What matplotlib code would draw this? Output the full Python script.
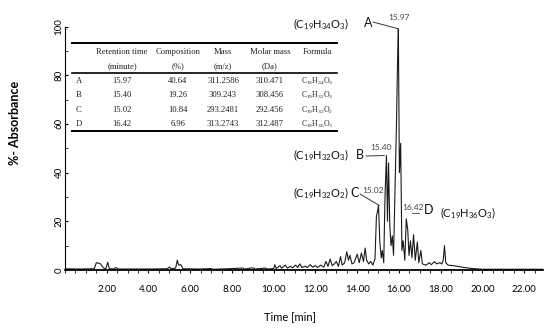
import matplotlib.pyplot as plt
from matplotlib.lines import Line2D

plt.rcParams['font.family'] = ['Lato', 'DejaVu Sans']
plt.rcParams['mathtext.default'] = 'regular'

# chromatogram (time in min, % absorbance)
tempo = [0.0, 0.6, 1.4, 1.5, 1.6, 1.7, 1.85, 1.95, 2.05, 2.12, 2.3, 2.45, 2.55,
         3.0, 4.0, 4.9, 5.0, 5.1, 5.3, 5.38, 5.45, 5.55, 5.65, 6.5, 7.0, 7.1,
         7.8, 8.5, 8.6, 9.0, 9.1, 9.6, 9.7, 10.0, 10.05, 10.12, 10.3, 10.38,
         10.55, 10.65, 10.8, 10.9, 11.05, 11.15, 11.25, 11.35, 11.5, 11.6,
         11.75, 11.85, 12.0, 12.1, 12.25, 12.4, 12.5, 12.6, 12.7, 12.8, 12.9,
         13.0, 13.1, 13.2, 13.28, 13.4, 13.5, 13.58, 13.65, 13.75, 13.85,
         14.0, 14.1, 14.2, 14.3, 14.38, 14.45, 14.55, 14.65, 14.75, 14.85,
         14.92, 14.97, 15.02, 15.08, 15.15, 15.2, 15.27, 15.33, 15.40, 15.45,
         15.5, 15.56, 15.62, 15.68, 15.74, 15.8, 15.88, 15.93, 15.97, 16.02,
         16.08, 16.14, 16.2, 16.28, 16.35, 16.42, 16.48, 16.55, 16.62, 16.7,
         16.78, 16.88, 16.95, 17.05, 17.12, 17.3, 17.45, 17.55, 17.7, 17.8,
         17.95, 18.05, 18.12, 18.18, 18.24, 18.35, 18.6, 19.0, 19.5, 20.0, 22.9]
absorb = [0.5, 0.4, 0.5, 3.0, 2.8, 2.5, 0.8, 0.5, 3.2, 0.6, 0.4, 1.0, 0.4,
          0.4, 0.4, 0.5, 1.2, 0.5, 0.8, 4.0, 2.0, 2.2, 0.5, 0.4, 0.6, 0.3,
          0.5, 0.8, 0.4, 0.9, 0.4, 0.8, 0.4, 0.6, 2.2, 0.6, 1.8, 0.7,
          2.0, 0.8, 1.5, 0.9, 2.0, 1.0, 2.5, 1.0, 1.6, 1.0,
          2.2, 1.2, 1.8, 1.0, 2.0, 1.2, 3.5, 1.5, 4.5, 1.8, 2.5,
          3.5, 1.5, 5.5, 2.0, 3.0, 7.5, 4.0, 6.0, 2.5, 3.0,
          6.5, 3.0, 7.0, 3.5, 9.0, 4.0, 2.5, 3.5, 2.0, 4.5,
          22.0, 24.0, 26.5, 12.0, 5.0, 8.0, 3.0, 30.0, 47.0, 20.0,
          44.0, 18.0, 10.0, 14.0, 6.0, 30.0, 60.0, 85.0, 99.0, 40.0,
          52.0, 8.0, 12.0, 4.0, 21.0, 16.5, 6.0, 12.0, 5.0, 14.5,
          4.0, 11.5, 3.0, 8.0, 2.5, 2.0, 3.0, 2.2, 3.5, 2.5,
          3.0, 2.5, 4.0, 10.0, 3.0, 2.0, 1.8, 1.2, 0.6, 0.3, 0.3]

# table
letras = ['A', 'B', 'C', 'D']
ret_time = ['15.97', '15.40', '15.02', '16.42']
composicao = ['40.64', '19.26', '10.84', '6.96']
massa = ['311.2586', '309.243', '293.2481', '313.2743']
massa_molar = ['310.471', '308.456', '292.456', '312.487']
formulas = ['C$_{19}$H$_{34}$O$_{3}$', 'C$_{19}$H$_{32}$O$_{3}$',
            'C$_{19}$H$_{32}$O$_{2}$', 'C$_{19}$H$_{36}$O$_{3}$']
cabecalho = [('Retention time', '(minute)'), ('Composition', '(%)'),
             ('Mass', '(m/z)'), ('Molar mass', '(Da)'), ('Formula', '')]

# peak heights for the leader lines
pico_v = [99, 47, 26.5, 16.5]

W, H = 550, 330
fig = plt.figure(figsize=(W / 100, H / 100), dpi=100)
ax = fig.add_axes([65 / W, 1 - 270 / H, (543 - 65) / W, (270 - 26.5) / H])


def px(x, y):
    return (x / W, 1 - y / H)


ax.plot(tempo, absorb, color='#1a1a1a', lw=0.8)
ax.set_xlim(0, 22.9)
ax.set_ylim(0, 100)
ax.spines['top'].set_visible(False)
ax.spines['right'].set_visible(False)
ax.spines['bottom'].set_linewidth(1.3)
ax.spines['left'].set_linewidth(0.8)

ax.set_xticks(range(2, 23, 2))
ax.set_xticklabels(['%.2f' % v for v in range(2, 23, 2)], fontsize=7)
ax.set_xticks([i * 0.5 for i in range(46)], minor=True)
ax.tick_params(axis='x', which='both', direction='out', length=2, pad=9)
ax.set_yticks([0, 20, 40, 60, 80, 100])
ax.set_yticklabels(['0', '20', '40', '60', '80', '100'], fontsize=7,
                   rotation=90, va='center')
ax.set_yticks(range(0, 101, 10), minor=True)
ax.tick_params(axis='y', which='both', direction='in', length=2, pad=1)

fig.text(*px(290, 317), 'Time [min]', fontsize=8, ha='center', va='center')
fig.text(*px(15, 123), '%- Absorbance', fontsize=9, fontweight='bold',
         rotation=90, ha='center', va='center')

# table drawn with rules
serif = 'Liberation Serif'
fs_tab = 6.2
for y, lw in [(43, 1.4), (73, 1.2), (131, 1.4)]:
    fig.add_artist(Line2D([72 / W, 337 / W], [1 - y / H] * 2,
                          transform=fig.transFigure, color='black', lw=lw))
col_x = [122, 178, 223, 270, 317]
for cx, (l1, l2) in zip(col_x, cabecalho):
    fig.text(*px(cx, 52), l1, fontsize=fs_tab, family=serif, ha='center',
             va='center', color='#222')
    if l2:
        fig.text(*px(cx, 66), l2, fontsize=fs_tab, family=serif, ha='center',
                 va='center', color='#222')
linhas_y = [81, 95.5, 110, 124]
for i, ry in enumerate(linhas_y):
    fig.text(*px(76, ry), letras[i], fontsize=fs_tab, family=serif,
             ha='left', va='center', color='#222')
    valores = [ret_time[i], composicao[i], massa[i], massa_molar[i],
               formulas[i]]
    for cx, v in zip(col_x, valores):
        fig.text(*px(cx, ry), v, fontsize=fs_tab if cx != 317 else 5.6,
                 family=serif, ha='center', va='center', color='#222')

# peak annotations
form_pos = [(321, 24), (321, 155), (321, 193), (468, 213)]
letra_pos = [(368, 23), (360, 155), (355, 193), (429, 210)]
rt_pos = [(399, 17), (381, 147), (373, 190), (413, 208)]
linha_ini = [(373, 22), (366, 156), (360, 194), None]
linha_dx = [0.02, -0.1, 0.04, 0]

for i in range(4):
    fig.text(*px(*form_pos[i]), '(' + formulas[i] + ')', fontsize=8,
             ha='center', va='center', color='#111')
    fig.text(*px(*letra_pos[i]), letras[i], fontsize=9, ha='center',
             va='center', color='#111')
    fig.text(*px(*rt_pos[i]), ret_time[i], fontsize=6, ha='center',
             va='center', color='#444')
    if linha_ini[i] is not None:
        ax.annotate('', xy=(float(ret_time[i]) + linha_dx[i], pico_v[i]),
                    xycoords='data', xytext=px(*linha_ini[i]),
                    textcoords='figure fraction', annotation_clip=False,
                    arrowprops=dict(arrowstyle='-', color='#333', lw=0.7,
                                    shrinkA=0, shrinkB=0))
fig.add_artist(Line2D([412 / W, 419 / W], [1 - 213 / H] * 2,
                      transform=fig.transFigure, color='#444', lw=0.6))

plt.savefig('out.png', dpi=100)
